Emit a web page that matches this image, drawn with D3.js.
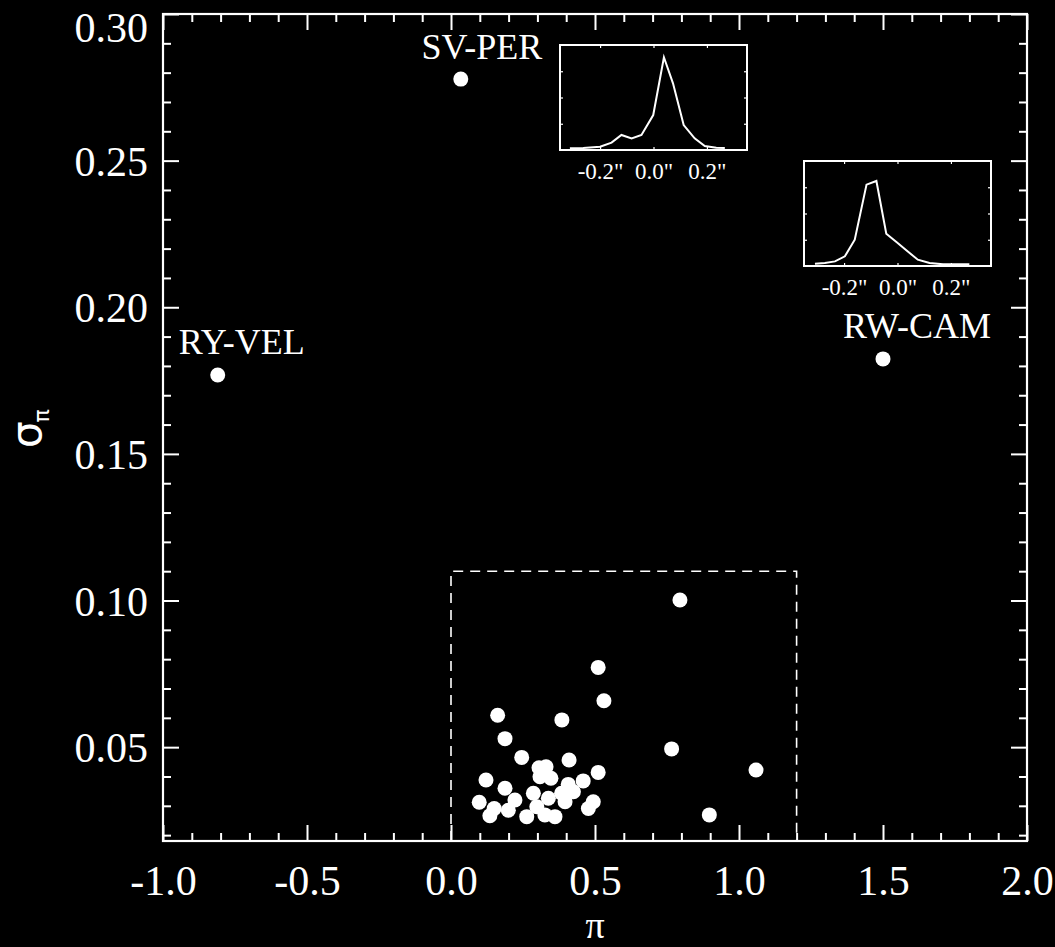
<!DOCTYPE html>
<html>
<head>
<meta charset="utf-8">
<script src="https://cdn.jsdelivr.net/npm/d3@7"></script>
<style>
  html, body { margin: 0; padding: 0; background: #000; }
  svg { display: block; background: #000; }
  text { font-family: "Liberation Serif", "Times New Roman", serif; fill: #fff; }
</style>
</head>
<body>
<svg id="chart" width="1055" height="947"></svg>
<script>
// ---------------- DATA ----------------
const xMajorTicks = [-1.0, -0.5, 0.0, 0.5, 1.0, 1.5, 2.0];
const yMajorTicks = [0.05, 0.10, 0.15, 0.20, 0.25, 0.30];
const xTickLabels = ["-1.0", "-0.5", "0.0", "0.5", "1.0", "1.5", "2.0"];
const yTickLabels = ["0.05", "0.10", "0.15", "0.20", "0.25", "0.30"];

const namedStars = ["SV-PER", "RY-VEL", "RW-CAM"];
const namedPi    = [0.034, -0.81, 1.50];
const namedSigma = [0.2778, 0.1769, 0.1824];

const clusterPi = [0.511, 0.531, 0.162, 0.385, 0.1875, 0.766, 1.059, 0.897, 0.795,
  0.2455, 0.410, 0.511, 0.1215, 0.3056, 0.330, 0.309, 0.347, 0.459, 0.1875, 0.407,
  0.286, 0.384, 0.425, 0.098, 0.222, 0.338, 0.494, 0.477, 0.150, 0.135, 0.199,
  0.263, 0.326, 0.361, 0.298, 0.396];
const clusterSigma = [0.0772, 0.0658, 0.0609, 0.0593, 0.0529, 0.0494, 0.0422, 0.0269, 0.1002,
  0.0465, 0.0456, 0.0414, 0.0388, 0.0430, 0.0433, 0.0399, 0.0394, 0.0385, 0.0360, 0.0373,
  0.0343, 0.0343, 0.0348, 0.0312, 0.0320, 0.0326, 0.0314, 0.0291, 0.0291, 0.0266, 0.0285,
  0.0263, 0.0269, 0.0263, 0.0297, 0.0314];

const boxPi = [0.0, 1.2];
const boxSigma = [0.11];

// inset profiles (offset in arcsec, normalised intensity)
const insetTickLabels = ['-0.2"', '0.0"', '0.2"'];
const insetTicks = [-0.2, 0.0, 0.2];
const profile1X = [-0.313, -0.263, -0.2, -0.157, -0.12, -0.082, -0.045, -0.001, 0.039, 0.073, 0.113, 0.154, 0.192, 0.235, 0.267];
const profile1Y = [0.016, 0.019, 0.032, 0.07, 0.143, 0.111, 0.143, 0.333, 0.883, 0.635, 0.238, 0.111, 0.038, 0.022, 0.019];
const profile2X = [-0.309, -0.272, -0.234, -0.197, -0.16, -0.116, -0.079, -0.042, -0.004, 0.033, 0.076, 0.12, 0.17, 0.269];
const profile2Y = [0.022, 0.029, 0.044, 0.092, 0.251, 0.775, 0.81, 0.308, 0.229, 0.149, 0.06, 0.029, 0.016, 0.016];

// ---------------- LAYOUT ----------------
const svg = d3.select("#chart");
const L = 163, R = 1027, T = 14, B = 841;
const x = d3.scaleLinear().domain([-1.0, 2.0]).range([L, R]);
const y = d3.scaleLinear().domain([0.018, 0.30]).range([B, T]);

const FONT = 42;
const g = svg.append("g");

// minor tick values
const xMinor = d3.range(-10, 21).map(d => d / 10).filter(v => !xMajorTicks.some(m => Math.abs(m - v) < 1e-9));
const yMinor = d3.range(2, 31).map(d => d / 100).filter(v => !yMajorTicks.some(m => Math.abs(m - v) < 1e-9));

function styleAxis(sel) {
  sel.select(".domain").remove();
  sel.selectAll(".tick line").attr("stroke", "#fff").attr("stroke-width", 2);
  sel.selectAll("text").attr("fill", "#fff").style("font-family", '"Liberation Serif", serif').style("font-size", FONT + "px");
}

// bottom axis
const xb = g.append("g").attr("transform", `translate(0,${B})`)
  .call(d3.axisBottom(x).tickValues(xMajorTicks).tickSizeInner(-16).tickSizeOuter(0).tickPadding(24)
    .tickFormat((d, i) => xTickLabels[i]));
styleAxis(xb);
const xbm = g.append("g").attr("transform", `translate(0,${B})`)
  .call(d3.axisBottom(x).tickValues(xMinor).tickSizeInner(-8).tickSizeOuter(0).tickFormat(""));
styleAxis(xbm);
// top axis
const xt = g.append("g").attr("transform", `translate(0,${T})`)
  .call(d3.axisTop(x).tickValues(xMajorTicks).tickSizeInner(-16).tickSizeOuter(0).tickFormat(""));
styleAxis(xt);
const xtm = g.append("g").attr("transform", `translate(0,${T})`)
  .call(d3.axisTop(x).tickValues(xMinor).tickSizeInner(-8).tickSizeOuter(0).tickFormat(""));
styleAxis(xtm);
// left axis
const yl = g.append("g").attr("transform", `translate(${L},0)`)
  .call(d3.axisLeft(y).tickValues(yMajorTicks).tickSizeInner(-16).tickSizeOuter(0).tickPadding(15)
    .tickFormat((d, i) => yTickLabels[i]));
styleAxis(yl);
// keep top label inside the picture
yl.selectAll(".tick text").attr("dy", null).attr("y", function (d) {
  return Math.max(14.5, 41 - y(d));
});
const ylm = g.append("g").attr("transform", `translate(${L},0)`)
  .call(d3.axisLeft(y).tickValues(yMinor).tickSizeInner(-8).tickSizeOuter(0).tickFormat(""));
styleAxis(ylm);
// right axis
const yr = g.append("g").attr("transform", `translate(${R},0)`)
  .call(d3.axisRight(y).tickValues(yMajorTicks).tickSizeInner(-16).tickSizeOuter(0).tickFormat(""));
styleAxis(yr);
const yrm = g.append("g").attr("transform", `translate(${R},0)`)
  .call(d3.axisRight(y).tickValues(yMinor).tickSizeInner(-8).tickSizeOuter(0).tickFormat(""));
styleAxis(yrm);

// frame
g.append("rect").attr("x", L).attr("y", T).attr("width", R - L).attr("height", B - T)
  .attr("fill", "none").attr("stroke", "#fff").attr("stroke-width", 2.2);

// axis titles
svg.append("text").attr("x", (L + R) / 2).attr("y", 938).attr("text-anchor", "middle")
  .style("font-size", "38px").text("π");
const yt = svg.append("text").attr("transform", `translate(41,448) rotate(-90)`)
  .attr("text-anchor", "start").style("font-family", '"DejaVu Sans", sans-serif').style("font-size", "42px");
yt.append("tspan").text("σ");
yt.append("tspan").attr("dy", 8).attr("dx", -1).style("font-size", "22px").text("π");

// dashed selection box
g.append("path")
  .attr("d", `M${x(boxPi[0])},${B} L${x(boxPi[0])},${y(boxSigma[0])} L${x(boxPi[1])},${y(boxSigma[0])} L${x(boxPi[1])},${B}`)
  .attr("fill", "none").attr("stroke", "#fff").attr("stroke-width", 1.6).attr("stroke-dasharray", "10,7");

// points
const pts = clusterPi.map((p, i) => ({ p, s: clusterSigma[i] }))
  .concat(namedPi.map((p, i) => ({ p, s: namedSigma[i] })));
g.selectAll("circle.pt").data(pts).enter().append("circle").attr("class", "pt")
  .attr("cx", d => x(d.p)).attr("cy", d => y(d.s)).attr("r", 7.5).attr("fill", "#fff");

// star labels
const labelOffset = { "SV-PER": [21, -20], "RY-VEL": [24, -21], "RW-CAM": [34, -21] };
namedStars.forEach((n, i) => {
  svg.append("text").attr("x", x(namedPi[i]) + labelOffset[n][0]).attr("y", y(namedSigma[i]) + labelOffset[n][1])
    .attr("text-anchor", "middle").style("font-size", "36px").text(n);
});

// insets
function inset(left, top, px, py) {
  const w = 187, h = 105;
  const ix = d3.scaleLinear().domain([-0.35, 0.35]).range([left, left + w]);
  const iy = d3.scaleLinear().domain([0, 1]).range([top + h, top]);
  const ig = svg.append("g");
  const ib = ig.append("g").attr("transform", `translate(0,${top + h})`)
    .call(d3.axisBottom(ix).tickValues(insetTicks).tickSizeInner(-3).tickSizeOuter(0).tickPadding(13)
      .tickFormat((d, i) => insetTickLabels[i]));
  ib.select(".domain").remove();
  ib.selectAll("line").attr("stroke", "#fff").attr("stroke-width", 1.2);
  ib.selectAll("text").attr("fill", "#fff").style("font-family", '"Liberation Serif", serif').style("font-size", "23px");
  const it = ig.append("g").attr("transform", `translate(0,${top})`)
    .call(d3.axisTop(ix).tickValues(insetTicks).tickSizeInner(-3).tickSizeOuter(0).tickFormat(""));
  it.select(".domain").remove();
  it.selectAll("line").attr("stroke", "#fff").attr("stroke-width", 1.2);
  [[left, d3.axisLeft], [left + w, d3.axisRight]].forEach(([xx, ax]) => {
    const a = ig.append("g").attr("transform", `translate(${xx},0)`)
      .call(ax(iy).tickValues([0.25, 0.5, 0.75]).tickSizeInner(-3).tickSizeOuter(0).tickFormat(""));
    a.select(".domain").remove();
    a.selectAll("line").attr("stroke", "#fff").attr("stroke-width", 1.2);
  });
  ig.append("rect").attr("x", left).attr("y", top).attr("width", w).attr("height", h)
    .attr("fill", "none").attr("stroke", "#fff").attr("stroke-width", 2);
  ig.append("path").datum(px.map((v, i) => [v, py[i]]))
    .attr("d", d3.line().x(d => ix(d[0])).y(d => iy(d[1])))
    .attr("fill", "none").attr("stroke", "#fff").attr("stroke-width", 2);
}
inset(560, 45, profile1X, profile1Y);
inset(804, 161, profile2X, profile2Y);
</script>
</body>
</html>
